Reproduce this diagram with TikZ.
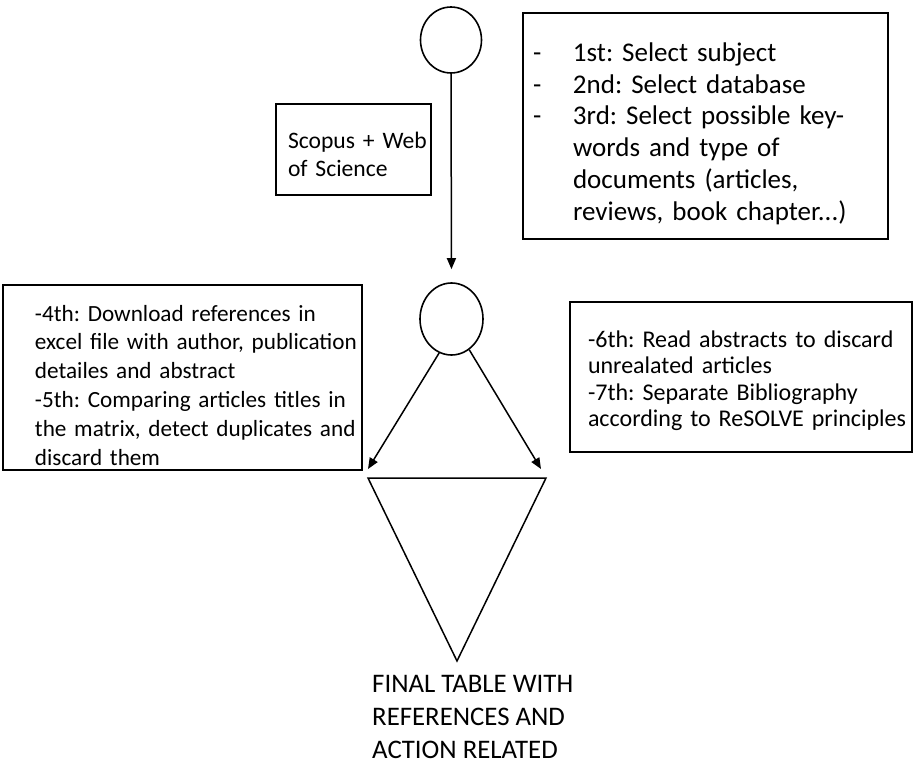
\documentclass[tikz,border=0pt]{standalone}
\usepackage{fontspec}
\setmainfont{Carlito}
\usetikzlibrary{arrows.meta,shapes.geometric}

\newcommand{\boxfont}[2]{\fontsize{#1}{#2}\selectfont}
\newcommand{\dashitem}{\makebox[40pt][l]{-}}
\frenchspacing

\tikzset{
	stage/.style={draw, ellipse, line width=1.6pt, inner sep=0pt},
	stepbox/.style={draw, rectangle, line width=1.5pt, align=left, inner xsep=6pt, inner ysep=0pt},
	leftpad/.style={execute at begin node={\leftskip=#1\rightskip=-40pt plus 1fil}},
	flow/.style={-{Triangle[length=11pt,width=9pt]}, line width=1.5pt}
}

\begin{document}
\begin{tikzpicture}[x=1pt,y=-1pt]
	\useasboundingbox (0,0) rectangle (914,763);
	
	%% stages
	\node[stage, minimum width=61pt, minimum height=66pt] (start) at (451,40) {};
	\node[stage, minimum width=63pt, minimum height=72pt] (filter) at (451.5,319) {};
	
	%% boxes (text height/depth put the first baseline in place)
	\node[stepbox, text width=353pt, text height=48.5pt, text depth=177.5pt, leftpad=4pt, font=\boxfont{27}{31.7}] (select) at (705.5,126)
		{\dashitem 1st: Select subject\\
		 \dashitem 2nd: Select database\\
		 \dashitem 3rd: Select possible key-\\
		 \hspace*{40pt}words and type of\\
		 \hspace*{40pt}documents (articles,\\
		 \hspace*{40pt}reviews, book chapter...)};
	\node[stepbox, text width=143pt, text height=44.75pt, text depth=46.25pt, leftpad=6pt, font=\boxfont{23.6}{28}] (base) at (353.5,149.5)
		{Scopus + Web\\of Science};
	\node[stepbox, text width=347pt, text height=36pt, text depth=149pt, leftpad=26pt, font=\boxfont{23.2}{28.8}] (download) at (182.5,377.5)
		{-4th: Download references in\\
		 excel file with author, publication\\
		 detailes and abstract\\
		 -5th: Comparing articles titles in\\
		 the matrix, detect duplicates and\\
		 discard them};
	\node[stepbox, text width=330pt, text height=45pt, text depth=105pt, leftpad=12pt, font=\boxfont{24}{26.6}] (read) at (741,377)
		{-6th: Read abstracts to discard\\
		 unrealated articles\\
		 -7th: Separate Bibliography\\
		 according to ReSOLVE principles};
	
	%% final triangle
	\coordinate (tl) at (368,478);
	\coordinate (tr) at (546,478);
	\coordinate (tip) at (457,661);
	\draw[line width=1.5pt] (tl) -- (tr) -- (tip) -- cycle;
	\coordinate (inL) at (368,469);
	\coordinate (inR) at (541,469);
	\node[anchor=north west, inner sep=0pt, align=left, font=\boxfont{26.8}{33}] (final) at (372,675)
		{FINAL TABLE WITH\\REFERENCES AND\\ACTION RELATED};
	
	%% arrows
	\draw[flow, shorten >=13pt] (start.south) -- (filter.north);
	\draw[flow] (filter.250) -- (inL);
	\draw[flow] (filter.300) -- (inR);
\end{tikzpicture}
\end{document}
